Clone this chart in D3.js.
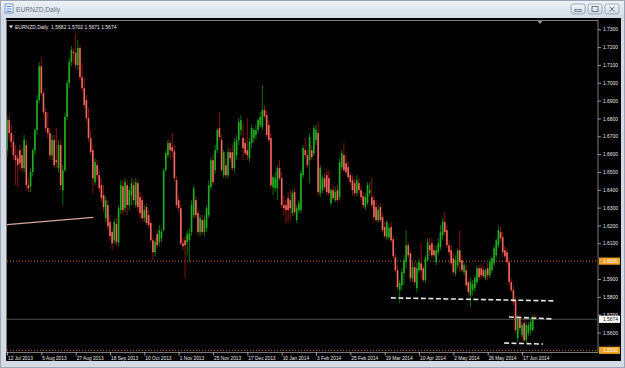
<!DOCTYPE html>
<html><head><meta charset="utf-8">
<script src="https://cdn.jsdelivr.net/npm/d3@7"></script>
<style>html,body{margin:0;padding:0;background:#d8dde5;overflow:hidden}svg{display:block}</style>
</head><body><svg id="c" width="625" height="368"></svg>
<script>
// ---------- DATA ----------
const symbolTitle = "EURNZD,Daily";
const headerText = "EURNZD,Daily  1.5682 1.5702 1.5671 1.5674";
const opens = [1.6622,1.6791,1.6718,1.6668,1.6594,1.6577,1.6622,1.6594,1.6521,1.6651,1.6426,1.6420,1.6499,1.6622,1.6735,1.6903,1.7093,1.6942,1.6836,1.6746,
1.6718,1.6594,1.6679,1.6566,1.6521,1.6651,1.6398,1.6510,1.6808,1.6998,1.7116,1.7173,1.7167,1.7099,1.7195,1.7032,1.6970,1.6903,1.6802,1.6690,
1.6622,1.6443,1.6538,1.6482,1.6426,1.6370,1.6241,1.6314,1.6219,1.6163,1.6117,1.6208,1.6106,1.6286,1.6420,1.6297,1.6426,1.6314,1.6370,1.6426,
1.6314,1.6437,1.6359,1.6342,1.6241,1.6303,1.6258,1.6213,1.6117,1.6050,1.6151,1.6106,1.6128,1.6174,1.6510,1.6594,1.6662,1.6639,1.6616,1.6454,
1.6342,1.6297,1.6100,1.6117,1.6106,1.6117,1.6163,1.6258,1.6342,1.6269,1.6163,1.6230,1.6163,1.6185,1.6258,1.6415,1.6566,1.6510,1.6622,1.6746,
1.6679,1.6482,1.6538,1.6482,1.6611,1.6611,1.6521,1.6594,1.6679,1.6735,1.6690,1.6662,1.6622,1.6577,1.6662,1.6690,1.6707,1.6735,1.6763,1.6752,
1.6847,1.6819,1.6763,1.6690,1.6415,1.6409,1.6409,1.6521,1.6465,1.6314,1.6314,1.6353,1.6342,1.6269,1.6387,1.6230,1.6286,1.6286,1.6482,1.6622,
1.6594,1.6566,1.6622,1.6605,1.6679,1.6718,1.6381,1.6398,1.6465,1.6482,1.6465,1.6325,1.6398,1.6342,1.6398,1.6359,1.6527,1.6594,1.6549,1.6527,
1.6482,1.6454,1.6437,1.6381,1.6437,1.6398,1.6364,1.6303,1.6325,1.6381,1.6359,1.6342,1.6303,1.6230,1.6303,1.6247,1.6191,1.6134,1.6134,1.6191,
1.6123,1.6022,1.5949,1.5837,1.5865,1.5932,1.5994,1.6089,1.6044,1.5904,1.5966,1.5848,1.5949,1.5988,1.5960,1.5893,1.6005,1.6089,1.6100,1.6061,
1.5994,1.6050,1.6078,1.6145,1.6219,1.6174,1.6089,1.6061,1.6016,1.5932,1.5977,1.6061,1.6005,1.5938,1.5949,1.5882,1.5809,1.5837,1.5848,1.5882,
1.5960,1.5960,1.5949,1.5904,1.5960,1.5921,1.5949,1.5988,1.6033,1.6089,1.6163,1.6134,1.6061,1.6050,1.5994,1.5882,1.5837,1.5781,1.5568,1.5680,
1.5585,1.5652,1.5556,1.5596,1.5613,1.5613,1.5682];
const highs = [1.6813,1.6819,1.6763,1.6707,1.6651,1.6622,1.6651,1.6634,1.6707,1.6679,1.6465,1.6521,1.6634,1.6746,1.6931,1.7116,1.7144,1.6959,1.6858,1.6836,
1.6746,1.6707,1.6707,1.6746,1.6679,1.6679,1.6538,1.6830,1.7015,1.7138,1.7206,1.7195,1.7274,1.7240,1.7212,1.7110,1.7026,1.6931,1.6858,1.6735,
1.6651,1.6577,1.6566,1.6510,1.6465,1.6426,1.6364,1.6342,1.6258,1.6185,1.6241,1.6241,1.6314,1.6454,1.6454,1.6465,1.6454,1.6420,1.6465,1.6454,
1.6465,1.6454,1.6387,1.6370,1.6314,1.6325,1.6286,1.6230,1.6134,1.6128,1.6174,1.6202,1.6185,1.6521,1.6622,1.6679,1.6679,1.6718,1.6651,1.6476,
1.6370,1.6319,1.6128,1.6140,1.6174,1.6185,1.6342,1.6426,1.6364,1.6286,1.6258,1.6258,1.6258,1.6314,1.6454,1.6583,1.6594,1.6651,1.6746,1.6836,
1.6707,1.6622,1.6577,1.6634,1.6634,1.6651,1.6690,1.6707,1.6802,1.6819,1.6774,1.6690,1.6802,1.6690,1.6763,1.6746,1.6763,1.6802,1.6836,1.6987,
1.6875,1.6847,1.6791,1.6718,1.6482,1.6499,1.6538,1.6566,1.6499,1.6370,1.6342,1.6387,1.6398,1.6398,1.6409,1.6314,1.6342,1.6510,1.6651,1.6690,
1.6622,1.6718,1.6651,1.6763,1.6763,1.6780,1.6538,1.6482,1.6493,1.6510,1.6510,1.6409,1.6426,1.6415,1.6426,1.6577,1.6622,1.6662,1.6594,1.6555,
1.6499,1.6482,1.6465,1.6482,1.6465,1.6420,1.6387,1.6381,1.6443,1.6443,1.6471,1.6370,1.6342,1.6314,1.6325,1.6269,1.6219,1.6230,1.6202,1.6219,
1.6140,1.6044,1.5977,1.5893,1.5960,1.6033,1.6174,1.6106,1.6061,1.5994,1.5994,1.5994,1.6016,1.6100,1.5977,1.6033,1.6128,1.6128,1.6128,1.6089,
1.6089,1.6128,1.6202,1.6241,1.6275,1.6202,1.6117,1.6089,1.6050,1.6033,1.6072,1.6174,1.6033,1.5994,1.5977,1.5904,1.5904,1.5893,1.5921,1.5977,
1.5977,1.5982,1.5971,1.5960,1.5988,1.6016,1.6027,1.6089,1.6128,1.6196,1.6196,1.6163,1.6084,1.6072,1.6016,1.5904,1.5860,1.5798,1.5697,1.5697,
1.5658,1.5680,1.5658,1.5658,1.5680,1.5697,1.5702];
const lows = [1.6583,1.6679,1.6634,1.6566,1.6426,1.6415,1.6510,1.6499,1.6499,1.6398,1.6387,1.6387,1.6476,1.6594,1.6707,1.6886,1.6925,1.6819,1.6724,1.6690,
1.6566,1.6566,1.6521,1.6527,1.6499,1.6398,1.6314,1.6499,1.6791,1.6970,1.7093,1.7110,1.7082,1.7071,1.7015,1.6948,1.6858,1.6780,1.6668,1.6594,
1.6381,1.6426,1.6454,1.6387,1.6331,1.6275,1.6219,1.6174,1.6117,1.6061,1.6095,1.6084,1.6084,1.6264,1.6258,1.6275,1.6258,1.6286,1.6314,1.6314,
1.6297,1.6275,1.6241,1.6219,1.6219,1.6202,1.6185,1.6106,1.6005,1.6027,1.6072,1.6084,1.6106,1.6163,1.6499,1.6577,1.6577,1.6583,1.6443,1.6297,
1.6275,1.6084,1.6061,1.5904,1.6033,1.5994,1.6140,1.6241,1.6241,1.6146,1.6140,1.6146,1.6140,1.6163,1.6241,1.6398,1.6426,1.6488,1.6605,1.6679,
1.6499,1.6465,1.6465,1.6465,1.6555,1.6510,1.6499,1.6566,1.6651,1.6707,1.6566,1.6594,1.6566,1.6555,1.6634,1.6662,1.6679,1.6718,1.6746,1.6735,
1.6802,1.6690,1.6668,1.6409,1.6370,1.6387,1.6342,1.6454,1.6297,1.6258,1.6213,1.6219,1.6230,1.6252,1.6258,1.6213,1.6269,1.6269,1.6465,1.6577,
1.6521,1.6437,1.6566,1.6588,1.6651,1.6370,1.6359,1.6381,1.6398,1.6370,1.6364,1.6308,1.6342,1.6331,1.6331,1.6342,1.6510,1.6499,1.6482,1.6454,
1.6426,1.6370,1.6364,1.6364,1.6376,1.6342,1.6297,1.6286,1.6314,1.6364,1.6297,1.6230,1.6219,1.6213,1.6219,1.6163,1.6128,1.6117,1.6117,1.6106,
1.6016,1.5937,1.5837,1.5764,1.5837,1.5865,1.5960,1.6016,1.5882,1.5882,1.5865,1.5826,1.5932,1.5904,1.5882,1.5876,1.5994,1.6033,1.6016,1.6016,
1.5977,1.6033,1.6061,1.6117,1.6146,1.6072,1.6033,1.5971,1.5921,1.5915,1.5960,1.5938,1.5938,1.5921,1.5854,1.5809,1.5742,1.5809,1.5826,1.5865,
1.5893,1.5904,1.5904,1.5893,1.5893,1.5904,1.5932,1.5971,1.6016,1.6072,1.6106,1.6033,1.6016,1.5977,1.5865,1.5826,1.5753,1.5596,1.5546,1.5602,
1.5568,1.5546,1.5540,1.5579,1.5585,1.5602,1.5671];
const closes = [1.6791,1.6718,1.6668,1.6594,1.6566,1.6538,1.6549,1.6521,1.6679,1.6426,1.6409,1.6499,1.6622,1.6735,1.6903,1.7093,1.6942,1.6836,1.6746,1.6718,
1.6594,1.6679,1.6538,1.6555,1.6651,1.6426,1.6510,1.6808,1.6998,1.7116,1.7184,1.7167,1.7099,1.7195,1.7032,1.6970,1.6875,1.6802,1.6690,1.6611,
1.6465,1.6555,1.6482,1.6409,1.6353,1.6303,1.6342,1.6196,1.6140,1.6100,1.6219,1.6106,1.6297,1.6426,1.6286,1.6443,1.6314,1.6398,1.6437,1.6342,
1.6443,1.6303,1.6269,1.6241,1.6286,1.6213,1.6202,1.6117,1.6050,1.6106,1.6089,1.6174,1.6163,1.6510,1.6605,1.6662,1.6622,1.6616,1.6465,1.6314,
1.6297,1.6100,1.6084,1.6089,1.6151,1.6157,1.6314,1.6409,1.6258,1.6163,1.6241,1.6163,1.6230,1.6297,1.6426,1.6566,1.6443,1.6622,1.6735,1.6696,
1.6510,1.6611,1.6482,1.6611,1.6577,1.6521,1.6668,1.6679,1.6780,1.6791,1.6634,1.6605,1.6594,1.6668,1.6746,1.6735,1.6735,1.6791,1.6808,1.6847,
1.6813,1.6707,1.6679,1.6426,1.6471,1.6465,1.6521,1.6465,1.6314,1.6297,1.6286,1.6286,1.6297,1.6381,1.6275,1.6297,1.6325,1.6493,1.6634,1.6594,
1.6538,1.6696,1.6583,1.6746,1.6735,1.6387,1.6521,1.6465,1.6415,1.6387,1.6381,1.6398,1.6353,1.6387,1.6342,1.6555,1.6605,1.6510,1.6499,1.6471,
1.6443,1.6398,1.6381,1.6454,1.6398,1.6359,1.6314,1.6359,1.6426,1.6398,1.6314,1.6247,1.6230,1.6286,1.6230,1.6174,1.6140,1.6219,1.6185,1.6117,
1.6027,1.5949,1.5854,1.5876,1.5938,1.6005,1.6089,1.6033,1.5904,1.5966,1.5882,1.5960,1.5994,1.5949,1.5893,1.6016,1.6106,1.6061,1.6033,1.6033,
1.6061,1.6100,1.6163,1.6219,1.6163,1.6089,1.6050,1.5988,1.5938,1.6005,1.6061,1.5994,1.5949,1.5977,1.5865,1.5826,1.5882,1.5871,1.5904,1.5960,
1.5910,1.5921,1.5915,1.5949,1.5921,1.5994,1.6016,1.6072,1.6117,1.6174,1.6128,1.6050,1.6027,1.5994,1.5882,1.5837,1.5770,1.5613,1.5680,1.5624,
1.5641,1.5556,1.5641,1.5641,1.5658,1.5680,1.5674];
const currentPrice = 1.5674;
const priceTicks = [1.56,1.57,1.58,1.59,1.61,1.62,1.63,1.64,1.65,1.66,1.67,1.68,1.69,1.70,1.71,1.72,1.73];
const levelLines = [1.6000, 1.5500];           // orange horizontal lines
const timeLabels = ["12 Jul 2013","5 Aug 2013","27 Aug 2013","18 Sep 2013","10 Oct 2013","1 Nov 2013","25 Nov 2013","17 Dec 2013","10 Jan 2014","3 Feb 2014","25 Feb 2014","19 Mar 2014","10 Apr 2014","2 May 2014","26 May 2014","17 Jun 2014"];
const timeLabelBars = [0,16,32,48,64,80,96,112,128,144,160,176,192,208,224,240];
// trend lines: [startBar, startPrice, endBar, endPrice]
const dashedLines = [[178.9,1.5794,255.4,1.5777],[233.9,1.5687,254.4,1.5676],[231.6,1.5541,249.8,1.5535]];
const pinkLine = [-0.5,1.6204,40.2,1.6245];

// ---------- DRAW ----------
const svg = d3.select("#c");
const W = 625, H = 368;
const plot = {l:7, r:598, t:20, b:352};
const x = d3.scaleLinear().domain([0,240]).range([7,522]);
const y = d3.scaleLinear().domain([1.55,1.73]).range([350.3,29.3]);
const step = x(1)-x(0);

const defs = svg.append("defs");
const g1 = defs.append("linearGradient").attr("id","tb").attr("x1",0).attr("y1",0).attr("x2",0).attr("y2",1);
g1.append("stop").attr("offset","0").attr("stop-color","#eef2f7");
g1.append("stop").attr("offset","1").attr("stop-color","#d3dce7");
const g2 = defs.append("linearGradient").attr("id","bt").attr("x1",0).attr("y1",0).attr("x2",0).attr("y2",1);
g2.append("stop").attr("offset","0").attr("stop-color","#f6f8fb");
g2.append("stop").attr("offset","1").attr("stop-color","#cfd6e0");
defs.append("clipPath").attr("id","pc").append("rect")
  .attr("x",plot.l).attr("y",plot.t).attr("width",plot.r-plot.l).attr("height",plot.b-plot.t);

// window frame
svg.append("rect").attr("width",W).attr("height",H).attr("fill","#d5dbe4");
svg.append("rect").attr("x",0.5).attr("y",0.5).attr("width",W-1).attr("height",H-1).attr("fill","none").attr("stroke","#9aa6b6");
svg.append("rect").attr("x",1).attr("y",1).attr("width",W-2).attr("height",16).attr("fill","url(#tb)");
// title icon
const ic = svg.append("g").attr("transform","translate(5,4)");
ic.append("rect").attr("width",8).attr("height",9).attr("fill","#ffffff").attr("stroke","#5a7fb0").attr("stroke-width",0.8);
ic.append("rect").attr("x",1.5).attr("y",2).attr("width",5).attr("height",1).attr("fill","#3a7ad0");
ic.append("rect").attr("x",1.5).attr("y",4.5).attr("width",5).attr("height",1).attr("fill","#3a7ad0");
ic.append("rect").attr("x",1.5).attr("y",7).attr("width",5).attr("height",1).attr("fill","#3a7ad0");
svg.append("text").attr("x",16).attr("y",11.5).text(symbolTitle)
  .attr("font-family","Liberation Sans, Arial, sans-serif").attr("font-size",6.6).attr("fill","#6a7482");
// buttons
[571,588,605].forEach((bx,k)=>{
  svg.append("rect").attr("x",bx).attr("y",4).attr("width",14).attr("height",10).attr("rx",2)
    .attr("fill","url(#bt)").attr("stroke","#8e9aab").attr("stroke-width",0.8);
  if(k===0) svg.append("rect").attr("x",bx+4).attr("y",9.5).attr("width",6).attr("height",2).attr("fill","none").attr("stroke","#55606e").attr("stroke-width",0.7);
  if(k===1) svg.append("rect").attr("x",bx+4).attr("y",6.5).attr("width",6).attr("height",5).attr("fill","none").attr("stroke","#55606e").attr("stroke-width",0.8);
  if(k===2) svg.append("path").attr("d",`M${bx+4.5},6.5L${bx+9.5},11.5M${bx+9.5},6.5L${bx+4.5},11.5`).attr("stroke","#55606e").attr("stroke-width",0.9);
});

// black chart window
svg.append("rect").attr("x",6).attr("y",18).attr("width",615).attr("height",343).attr("fill","#000000");
// plot frame
svg.append("rect").attr("x",plot.l-0.5).attr("y",plot.t+0.5).attr("width",plot.r-plot.l+0.5).attr("height",plot.b-plot.t)
  .attr("fill","none").attr("stroke","#9a9a9a").attr("stroke-width",0.8);

const P = svg.append("g").attr("clip-path","url(#pc)");

// orange level lines
levelLines.forEach(v=>{
  P.append("line").attr("x1",plot.l).attr("x2",plot.r).attr("y1",y(v)).attr("y2",y(v))
   .attr("stroke","#c8741c").attr("stroke-width",1).attr("stroke-dasharray","1,2");
});
// bid line
P.append("line").attr("x1",plot.l).attr("x2",plot.r).attr("y1",y(currentPrice)).attr("y2",y(currentPrice))
  .attr("stroke","#4e4e4e").attr("stroke-width",1);

// pink trend line
P.append("line").attr("x1",x(pinkLine[0])).attr("y1",y(pinkLine[1])).attr("x2",x(pinkLine[2])).attr("y2",y(pinkLine[3]))
  .attr("stroke","#d9a89c").attr("stroke-width",1.2);

// candles
const bars = d3.range(closes.length).map(i=>({i,o:opens[i],h:highs[i],l:lows[i],c:closes[i]}));
const cg = P.append("g");
cg.selectAll("line.w").data(bars).join("line").attr("class","w")
  .attr("x1",d=>x(d.i)).attr("x2",d=>x(d.i)).attr("y1",d=>y(d.h)).attr("y2",d=>y(d.l))
  .attr("stroke",d=>d.c>=d.o?"#0f7a0f":"#9a1414").attr("stroke-width",0.9);
cg.selectAll("rect.b").data(bars).join("rect").attr("class","b")
  .attr("x",d=>x(d.i)-step*0.38).attr("width",step*0.76)
  .attr("y",d=>y(Math.max(d.o,d.c))).attr("height",d=>Math.max(0.8,Math.abs(y(d.o)-y(d.c))))
  .attr("fill",d=>d.c>=d.o?"#1fae1f":"#f0685e");

// dashed white support lines
dashedLines.forEach(s=>{
  P.append("line").attr("x1",x(s[0])).attr("y1",y(s[1])).attr("x2",x(s[2])).attr("y2",y(s[3]))
   .attr("stroke","#e6e6e6").attr("stroke-width",1.6).attr("stroke-dasharray","5,2.5");
});

// header text
svg.append("path").attr("d","M9,25.5L13,25.5L11,28.5Z").attr("fill","#e0e0e0");
svg.append("text").attr("x",15).attr("y",29.3).text(headerText).attr("xml:space","preserve")
  .attr("font-family","Liberation Sans, Arial, sans-serif").attr("font-size",5).attr("fill","#e8e8e8");
// chart shift marker
svg.append("path").attr("d","M537.5,21L542.5,21L540,24Z").attr("fill","#9a9a9a");

// price axis
const fmt = d3.format(".4f");
const ya = svg.append("g").attr("transform",`translate(${plot.r},0)`)
  .call(d3.axisRight(y).tickValues(priceTicks).tickFormat(fmt).tickSize(3).tickPadding(2));
ya.select(".domain").remove();
ya.selectAll("line").attr("stroke","#bdbdbd").attr("stroke-width",0.8);
ya.selectAll("text").attr("fill","#e8e8e8").attr("font-size",4.9).attr("font-family","Liberation Sans, Arial, sans-serif");

// highlighted price labels
function priceBox(v, fill, tcol){
  const yy = y(v);
  svg.append("rect").attr("x",599).attr("y",yy-3.6).attr("width",21).attr("height",7.2).attr("fill",fill);
  svg.append("text").attr("x",603).attr("y",yy+1.8).text(fmt(v)).attr("fill",tcol)
    .attr("font-size",4.9).attr("font-family","Liberation Sans, Arial, sans-serif");
}
levelLines.forEach(v=>priceBox(v,"#f0a020","#ffffff"));
priceBox(currentPrice,"#ffffff","#000000");

// time axis
const xa = svg.append("g").attr("transform",`translate(0,${plot.b})`)
  .call(d3.axisBottom(x).tickValues(timeLabelBars).tickFormat((d,k)=>timeLabels[k]).tickSize(3.5).tickPadding(1.5));
xa.select(".domain").remove();
xa.selectAll("line").attr("stroke","#bdbdbd").attr("stroke-width",0.8);
xa.selectAll("text").attr("text-anchor","start").attr("dx",0.5).attr("fill","#e8e8e8")
  .attr("font-size",4.8).attr("font-family","Liberation Sans, Arial, sans-serif");
</script></body></html>
